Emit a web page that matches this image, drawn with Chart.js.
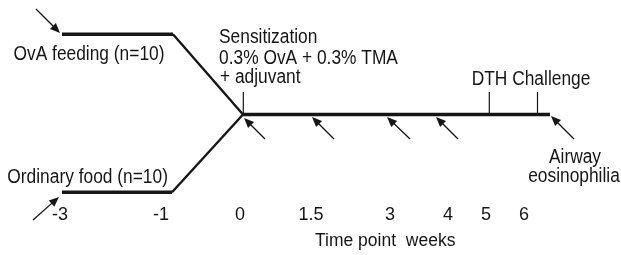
<!DOCTYPE html>
<html>
<head>
<meta charset="utf-8">
<script src="https://cdn.jsdelivr.net/npm/chart.js@4.4.1/dist/chart.umd.min.js"></script>
<style>
  html, body { margin: 0; padding: 0; background: #ffffff; }
  #wrap { width: 621px; height: 255px; position: relative; }
</style>
</head>
<body>
<div id="wrap"><canvas id="c"></canvas></div>
<script>
// ---- Data (schematic timeline; positions in diagram units) ----
const weekLabels = ['-3', '-1', '0', '1.5', '3', '4', '5', '6'];
const weekPos = [60, 161, 240, 311, 390, 448, 486, 524];
const axisTitle = 'Time point  weeks';

// group feeding paths [x, y]
const ovaFeeding = [[62, 34.3], [173, 34.3]];
const ovaMerge = [[173, 34.3], [243, 114.5]];
const ordinaryFood = [[62, 192.3], [172, 192.3]];
const ordinaryMerge = [[172, 192.3], [243, 114.5]];
const mainTimeline = [[243, 114.5], [550, 114.5]];

// event markers (vertical ticks above the timeline)
const markerX = [243.3, 489.3, 537.5];
const markerTop = 92;
const markerBottom = 114.5;

// arrows: tail -> tip
const arrowTails = [[36, 9], [33, 220], [265, 139], [334, 139], [410, 139], [458, 139], [574, 139]];
const arrowTips = [[60, 33], [59, 197], [244, 118], [312, 117], [387, 117], [436, 117], [551, 116]];

// text labels
const labelTexts = ['OvA feeding (n=10)', 'Ordinary food (n=10)', 'Sensitization',
  '0.3% OvA + 0.3% TMA', '+ adjuvant', 'DTH Challenge', 'Airway', 'eosinophilia'];
const labelAnchors = [[13.5, 60], [7.3, 182.5], [219, 42.5], [219, 63.5], [220, 83],
  [471.7, 85], [575, 163], [574, 181.5]];
const labelAligns = ['left', 'left', 'left', 'left', 'left', 'left', 'center', 'center'];

// ---- Build chart ----
const toPts = arr => arr.map(p => ({ x: p[0], y: p[1] }));
const INK = '#161616';
const FONT = '"Liberation Sans", Arial, Helvetica, sans-serif';

function seg(data, width) {
  return {
    data: toPts(data), showLine: true, borderColor: INK, borderWidth: width,
    pointRadius: 0, fill: false, clip: false, borderCapStyle: 'butt'
  };
}

const datasets = [
  seg(ovaFeeding, 3.6),
  seg(ovaMerge, 2.4),
  seg(ordinaryFood, 3.6),
  seg(ordinaryMerge, 2.4),
  seg(mainTimeline, 3.6)
];
markerX.forEach(x => datasets.push(seg([[x, markerTop], [x, markerBottom]], 1.2)));

const overlay = {
  id: 'overlay',
  afterDraw(chart) {
    const { ctx, scales } = chart;
    const sx = scales.x, sy = scales.y;
    const px = v => sx.getPixelForValue(v);
    const py = v => sy.getPixelForValue(v);
    ctx.save();
    ctx.strokeStyle = INK; ctx.fillStyle = INK;
    // arrows
    arrowTails.forEach((t, i) => {
      const x0 = px(t[0]), y0 = py(t[1]);
      const x1 = px(arrowTips[i][0]), y1 = py(arrowTips[i][1]);
      const ang = Math.atan2(y1 - y0, x1 - x0);
      const hl = 10, hw = 4.2;
      const bx = x1 - hl * Math.cos(ang), by = y1 - hl * Math.sin(ang);
      ctx.lineWidth = 1.3;
      ctx.beginPath(); ctx.moveTo(x0, y0);
      ctx.lineTo(x1 - hl * 0.7 * Math.cos(ang), y1 - hl * 0.7 * Math.sin(ang)); ctx.stroke();
      ctx.beginPath();
      ctx.moveTo(x1, y1);
      ctx.lineTo(bx + hw * Math.sin(ang), by - hw * Math.cos(ang));
      ctx.lineTo(bx - hw * Math.sin(ang), by + hw * Math.cos(ang));
      ctx.closePath(); ctx.fill();
    });
    // labels (slightly condensed)
    ctx.font = '19.5px ' + FONT;
    ctx.textBaseline = 'alphabetic';
    labelTexts.forEach((txt, i) => {
      ctx.save();
      ctx.translate(px(labelAnchors[i][0]), py(labelAnchors[i][1]));
      ctx.scale(0.89, 1);
      ctx.textAlign = labelAligns[i];
      ctx.fillText(txt, 0, 0);
      ctx.restore();
    });
    // axis title
    ctx.font = '17.5px ' + FONT;
    ctx.textAlign = 'left';
    ctx.fillText(axisTitle, px(315), 246);
    ctx.restore();
  }
};

new Chart(document.getElementById('c'), {
  type: 'scatter',
  data: { datasets },
  options: {
    responsive: true, maintainAspectRatio: false, animation: false,
    layout: { padding: 0 },
    plugins: { legend: { display: false }, tooltip: { enabled: false } },
    scales: {
      x: {
        type: 'linear', min: 0, max: 621, position: 'bottom',
        grid: { display: false, drawTicks: false },
        border: { display: false },
        afterBuildTicks: s => { s.ticks = weekPos.map(v => ({ value: v })); },
        afterFit: s => { s.height = 55; },
        ticks: {
          autoSkip: false, maxRotation: 0, padding: 4, color: INK,
          font: { family: FONT, size: 18 },
          callback: (v, i) => weekLabels[i]
        }
      },
      y: { type: 'linear', min: 0, max: 200, reverse: true, display: false }
    }
  },
  plugins: [overlay]
});
</script>
</body>
</html>
